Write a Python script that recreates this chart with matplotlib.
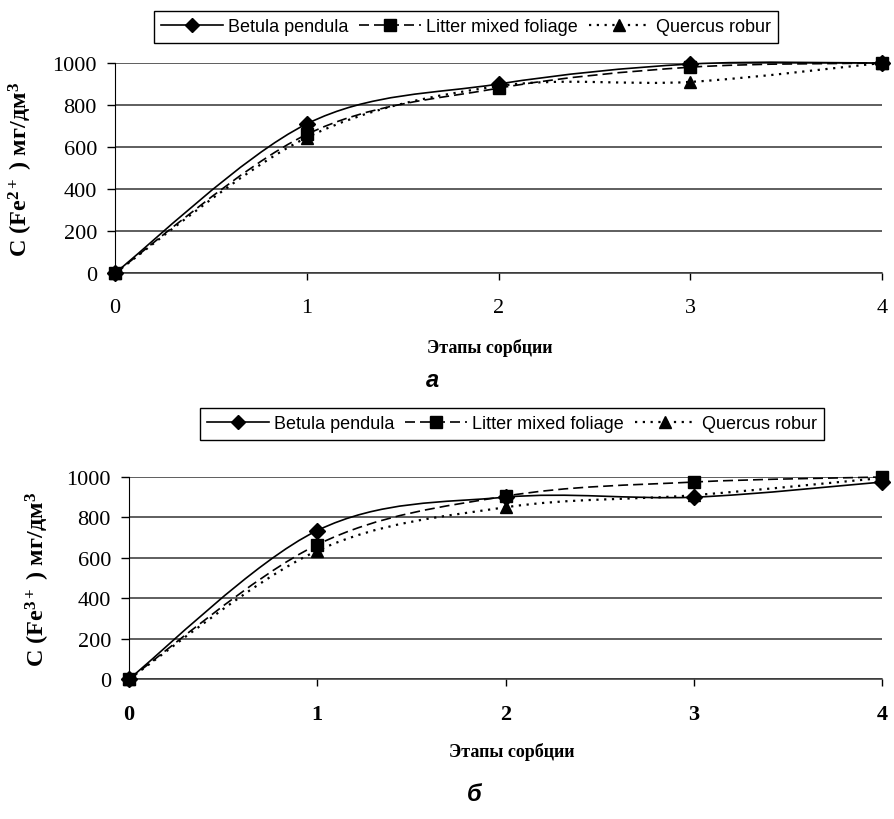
import matplotlib
matplotlib.use("Agg")
import matplotlib.pyplot as plt
from matplotlib.path import Path
from matplotlib.patches import PathPatch
from matplotlib.lines import Line2D
import numpy as np

plt.rcParams['font.family'] = ['Liberation Serif', 'DejaVu Serif']
plt.rcParams['mathtext.fontset'] = 'custom'
plt.rcParams['mathtext.rm'] = 'Liberation Serif:bold'
plt.rcParams['mathtext.it'] = 'Liberation Serif:bold'
plt.rcParams['mathtext.bf'] = 'Liberation Serif:bold'

stages = [0, 1, 2, 3, 4]
series_names = ["Betula pendula", "Litter mixed foliage", "Quercus robur"]

fe2_betula = [0, 710, 900, 995, 1000]
fe2_litter = [0, 660, 880, 980, 1000]
fe2_quercus = [0, 645, 890, 910, 1000]

fe3_betula = [0, 735, 900, 900, 975]
fe3_litter = [0, 665, 905, 975, 1000]
fe3_quercus = [0, 635, 850, 910, 995]

styles = [
    dict(ls='-', marker='D', ms=8, dash=None),
    dict(ls='--', marker='s', ms=9, dash=(0, (6, 3))),
    dict(ls=':', marker='^', ms=9, dash=(0, (1, 2.5))),
]

W, H = 894, 820
fig = plt.figure(figsize=(W / 100, H / 100), dpi=100)


def smooth_path(x, y):
    pts = np.column_stack([x, y]).astype(float)
    verts = [pts[0]]
    codes = [Path.MOVETO]
    n = len(pts)
    for i in range(n - 1):
        p0 = pts[i - 1] if i > 0 else pts[i]
        p1 = pts[i]
        p2 = pts[i + 1]
        p3 = pts[i + 2] if i + 2 < n else pts[i + 1]
        c1 = p1 + (p2 - p0) / 6.0
        c2 = p2 - (p3 - p1) / 6.0
        verts += [c1, c2, p2]
        codes += [Path.CURVE4] * 3
    return Path(verts, codes)


def make_axes(rect_px, data, bold_ticks, ylab, ylab_pos):
    l, r, t, b = rect_px
    ax = fig.add_axes([l / W, 1 - b / H, (r - l) / W, (b - t) / H])
    ax.set_xlim(0, 4)
    ax.set_ylim(0, 1000)
    ax.set_yticks([0, 200, 400, 600, 800, 1000])
    ax.set_xticks(stages)
    ax.yaxis.grid(True, color='#333333', lw=1.1)
    ax.set_axisbelow(True)
    for s in ['top', 'right']:
        ax.spines[s].set_visible(False)
    ax.spines['left'].set_color('black')
    ax.spines['bottom'].set_color('#333333')
    ax.spines['bottom'].set_linewidth(1.1)
    ax.tick_params(axis='y', length=6, width=1, direction='out', labelsize=16, pad=7)
    ax.tick_params(axis='x', length=5, width=1, direction='out', labelsize=16, pad=13)
    if bold_ticks:
        for lab in ax.get_xticklabels():
            lab.set_fontweight('bold')
    for vals, st in zip(data, styles):
        patch = PathPatch(smooth_path(stages, vals), facecolor='none', edgecolor='black',
                          lw=1.2 if st['ls'] != ':' else 1.6, linestyle=st['dash'] if st['dash'] else '-',
                          clip_on=False)
        ax.add_patch(patch)
        ax.plot(stages, vals, ls='none', marker=st['marker'], ms=st['ms'], color='black',
                clip_on=False, zorder=5)
    ax.set_ylabel(ylab, fontsize=17.5, fontweight='bold')
    ax.yaxis.set_label_coords(*ylab_pos)
    return ax


def make_legend(cx, cy):
    handles = []
    for st in styles:
        handles.append(Line2D([], [], color='black', lw=1.2 if st['ls'] != ':' else 1.6,
                              ls=st['dash'] if st['dash'] else '-', marker=st['marker'],
                              ms=st['ms'] - 1))
    leg = fig.legend(handles, series_names, loc='center', bbox_to_anchor=(cx / W, 1 - cy / H),
                     ncol=3, frameon=True, fancybox=False, edgecolor='black', framealpha=1,
                     prop={'family': 'Liberation Sans', 'size': 13}, handlelength=3.4,
                     handletextpad=0.3, columnspacing=0.6, borderpad=0.4, borderaxespad=0)
    leg.get_frame().set_linewidth(1.0)


ylab2 = "C (Fe$^{2+}$ ) мг/дм$^{3}$"
ylab3 = "C (Fe$^{3+}$ ) мг/дм$^{3}$"

make_axes((115, 882, 64, 274), [fe2_betula, fe2_litter, fe2_quercus], False, ylab2, (-0.104, 0.5))
make_axes((129, 882, 478, 680), [fe3_betula, fe3_litter, fe3_quercus], True, ylab3, (-0.102, 0.5))

make_legend(466, 28)
make_legend(512, 425)

fig.text(490 / W, 1 - 348 / H, "Этапы сорбции", ha='center', va='center', fontsize=13,
         fontweight='bold')
fig.text(512 / W, 1 - 752 / H, "Этапы сорбции", ha='center', va='center', fontsize=13,
         fontweight='bold')
fig.text(432 / W, 1 - 381 / H, "а", ha='center', va='center', fontsize=17, fontweight='bold',
         fontstyle='italic', family='Liberation Sans')
fig.text(474 / W, 1 - 795 / H, "б", ha='center', va='center', fontsize=17, fontweight='bold',
         fontstyle='italic', family='Liberation Sans')

fig.savefig("out.png", dpi=100)
